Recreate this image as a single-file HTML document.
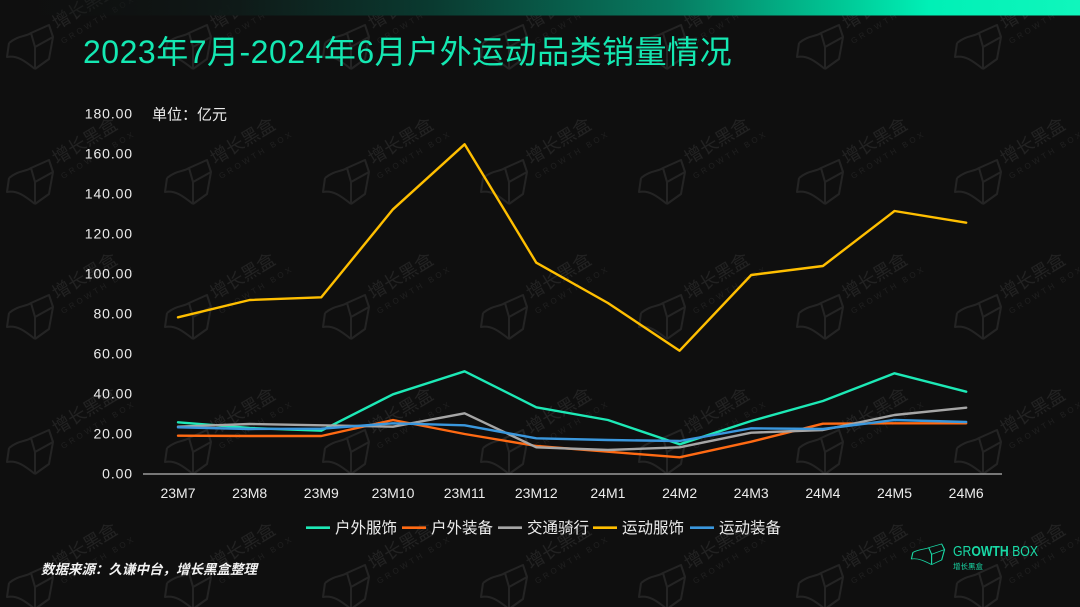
<!DOCTYPE html>
<html>
<head>
<meta charset="utf-8">
<style>
  html,body{margin:0;padding:0;background:#0f0f0f;}
  body{width:1080px;height:607px;overflow:hidden;}
  svg{display:block;}
  .cjk{font-family:"Liberation Sans","Noto Sans CJK SC",sans-serif;}
</style>
</head>
<body>
<svg width="1080" height="607" viewBox="0 0 1080 607" xmlns="http://www.w3.org/2000/svg">
  <defs>
    <linearGradient id="bar" x1="0" y1="0" x2="1" y2="0">
      <stop offset="0" stop-color="#0f0f0f" stop-opacity="0"/>
      <stop offset="0.22" stop-color="#0f1a18"/>
      <stop offset="0.40" stop-color="#0a3a30"/>
      <stop offset="0.62" stop-color="#077a60"/>
      <stop offset="0.78" stop-color="#00c896"/>
      <stop offset="0.86" stop-color="#00f0b6"/>
      <stop offset="1" stop-color="#10f6bc"/>
    </linearGradient>
    <pattern id="wm" x="5" y="-22" width="158" height="135" patternUnits="userSpaceOnUse">
      <g fill="none" stroke="#242424" stroke-width="2" stroke-linejoin="round" transform="translate(0,45)">
        <path d="M4,20 C14,12 20,14 26,10 L44,2 L48,14 L44,36 L30,46"/>
        <path d="M26,10 L30,24 L48,14"/>
        <path d="M30,24 L30,46"/>
        <path d="M4,20 L2,34 C12,32 20,38 30,46"/>
      </g>
      <text class="cjk" transform="translate(52,52) rotate(-31)" font-size="18" fill="#222222">增长黑盒</text>
      <text class="cjk" transform="translate(58,66) rotate(-31)" font-size="8" letter-spacing="3" fill="#1f1f1f">GROWTH BOX</text>
    </pattern>
  </defs>

  <rect x="0" y="0" width="1080" height="607" fill="#0f0f0f"/>
  <rect x="0" y="0" width="1080" height="607" fill="url(#wm)"/>

  <!-- top gradient bar -->
  <rect x="0" y="0" width="1080" height="15.5" fill="url(#bar)"/>

  <!-- title -->
  <text class="cjk" x="83" y="63" font-size="32" letter-spacing="0.5" fill="#14e8b2">2023年7月-2024年6月户外运动品类销量情况</text>

  <!-- y axis labels -->
  <g class="cjk" font-size="14" fill="#ececec" letter-spacing="0.9" text-anchor="end">
    <text x="133" y="118.3">180.00</text>
    <text x="133" y="158.3">160.00</text>
    <text x="133" y="198.4">140.00</text>
    <text x="133" y="238.4">120.00</text>
    <text x="133" y="278.5">100.00</text>
    <text x="133" y="318.5">80.00</text>
    <text x="133" y="358.5">60.00</text>
    <text x="133" y="398.6">40.00</text>
    <text x="133" y="438.6">20.00</text>
    <text x="133" y="478.5">0.00</text>
  </g>
  <text class="cjk" x="152" y="119.5" font-size="15" fill="#ececec">单位：亿元</text>

  <!-- axis line -->
  <line x1="143" y1="474" x2="1002" y2="474" stroke="#9a9a9a" stroke-width="1.5"/>

  <!-- x labels -->
  <g class="cjk" font-size="14" fill="#ececec" text-anchor="middle">
    <text x="178" y="498">23M7</text>
    <text x="249.7" y="498">23M8</text>
    <text x="321.3" y="498">23M9</text>
    <text x="393" y="498">23M10</text>
    <text x="464.6" y="498">23M11</text>
    <text x="536.3" y="498">23M12</text>
    <text x="607.9" y="498">24M1</text>
    <text x="679.6" y="498">24M2</text>
    <text x="751.2" y="498">24M3</text>
    <text x="822.9" y="498">24M4</text>
    <text x="894.5" y="498">24M5</text>
    <text x="966.2" y="498">24M6</text>
  </g>

  <!-- series -->
  <g fill="none" stroke-width="2.4" stroke-linejoin="round" stroke-linecap="round">
    <polyline stroke="#1de9b6" points="178,422.3 249.7,428 321.3,430.7 393,394.3 464.6,371.3 536.3,407.3 607.9,420 679.6,444.3 751.2,421 822.9,401 894.5,373.3 966.2,391.7"/>
    <polyline stroke="#ff6a13" points="178,435.7 249.7,436 321.3,436 393,420 464.6,434 536.3,446 607.9,451.7 679.6,457.3 751.2,441.7 822.9,423.7 894.5,423.3 966.2,423.3"/>
    <polyline stroke="#a6a6a6" points="178,426.7 249.7,424 321.3,425.3 393,426.7 464.6,413.3 536.3,447.3 607.9,450 679.6,447.3 751.2,432.7 822.9,430 894.5,415 966.2,407.7"/>
    <polyline stroke="#ffbf00" points="178,317.3 249.7,300 321.3,297.3 393,209.3 464.6,144.3 536.3,262.7 607.9,303 679.6,350.7 751.2,275 822.9,266 894.5,211 966.2,222.7"/>
    <polyline stroke="#3a97dd" points="178,427.3 249.7,429 321.3,428.7 393,423.3 464.6,425.3 536.3,438.3 607.9,440 679.6,441 751.2,428.3 822.9,429 894.5,420 966.2,422"/>
  </g>

  <!-- legend -->
  <g stroke-width="2.6">
    <line x1="306" y1="527.7" x2="330" y2="527.7" stroke="#1de9b6"/>
    <line x1="402" y1="527.7" x2="426" y2="527.7" stroke="#ff6a13"/>
    <line x1="498" y1="527.7" x2="522" y2="527.7" stroke="#a6a6a6"/>
    <line x1="593" y1="527.7" x2="617" y2="527.7" stroke="#ffbf00"/>
    <line x1="690" y1="527.7" x2="714" y2="527.7" stroke="#3a97dd"/>
  </g>
  <g class="cjk" font-size="15.5" fill="#ececec">
    <text x="335" y="533">户外服饰</text>
    <text x="431" y="533">户外装备</text>
    <text x="527" y="533">交通骑行</text>
    <text x="622" y="533">运动服饰</text>
    <text x="719" y="533">运动装备</text>
  </g>

  <!-- source -->
  <text class="cjk" x="41" y="574" font-size="13.5" font-weight="bold" font-style="italic" fill="#f2f2f2">数据来源：久谦中台，增长黑盒整理</text>

  <!-- logo -->
  <g fill="none" stroke="#19d9a6" stroke-width="1.6" stroke-linejoin="round" transform="translate(910,543) scale(0.72,0.47)">
    <path d="M4,20 C14,12 20,14 26,10 L44,2 L48,14 L44,36 L30,46"/>
    <path d="M26,10 L30,24 L48,14"/>
    <path d="M30,24 L30,46"/>
    <path d="M4,20 L2,34 C12,32 20,38 30,46"/>
  </g>
  <text x="953" y="556" font-family="Liberation Sans, sans-serif" font-size="15" fill="#19d9a6" textLength="85" lengthAdjust="spacingAndGlyphs">GR<tspan font-weight="bold">OWTH</tspan> BOX</text>
  <text class="cjk" x="953" y="569" font-size="7.5" fill="#19d9a6">增长黑盒</text>
</svg>
</body>
</html>
